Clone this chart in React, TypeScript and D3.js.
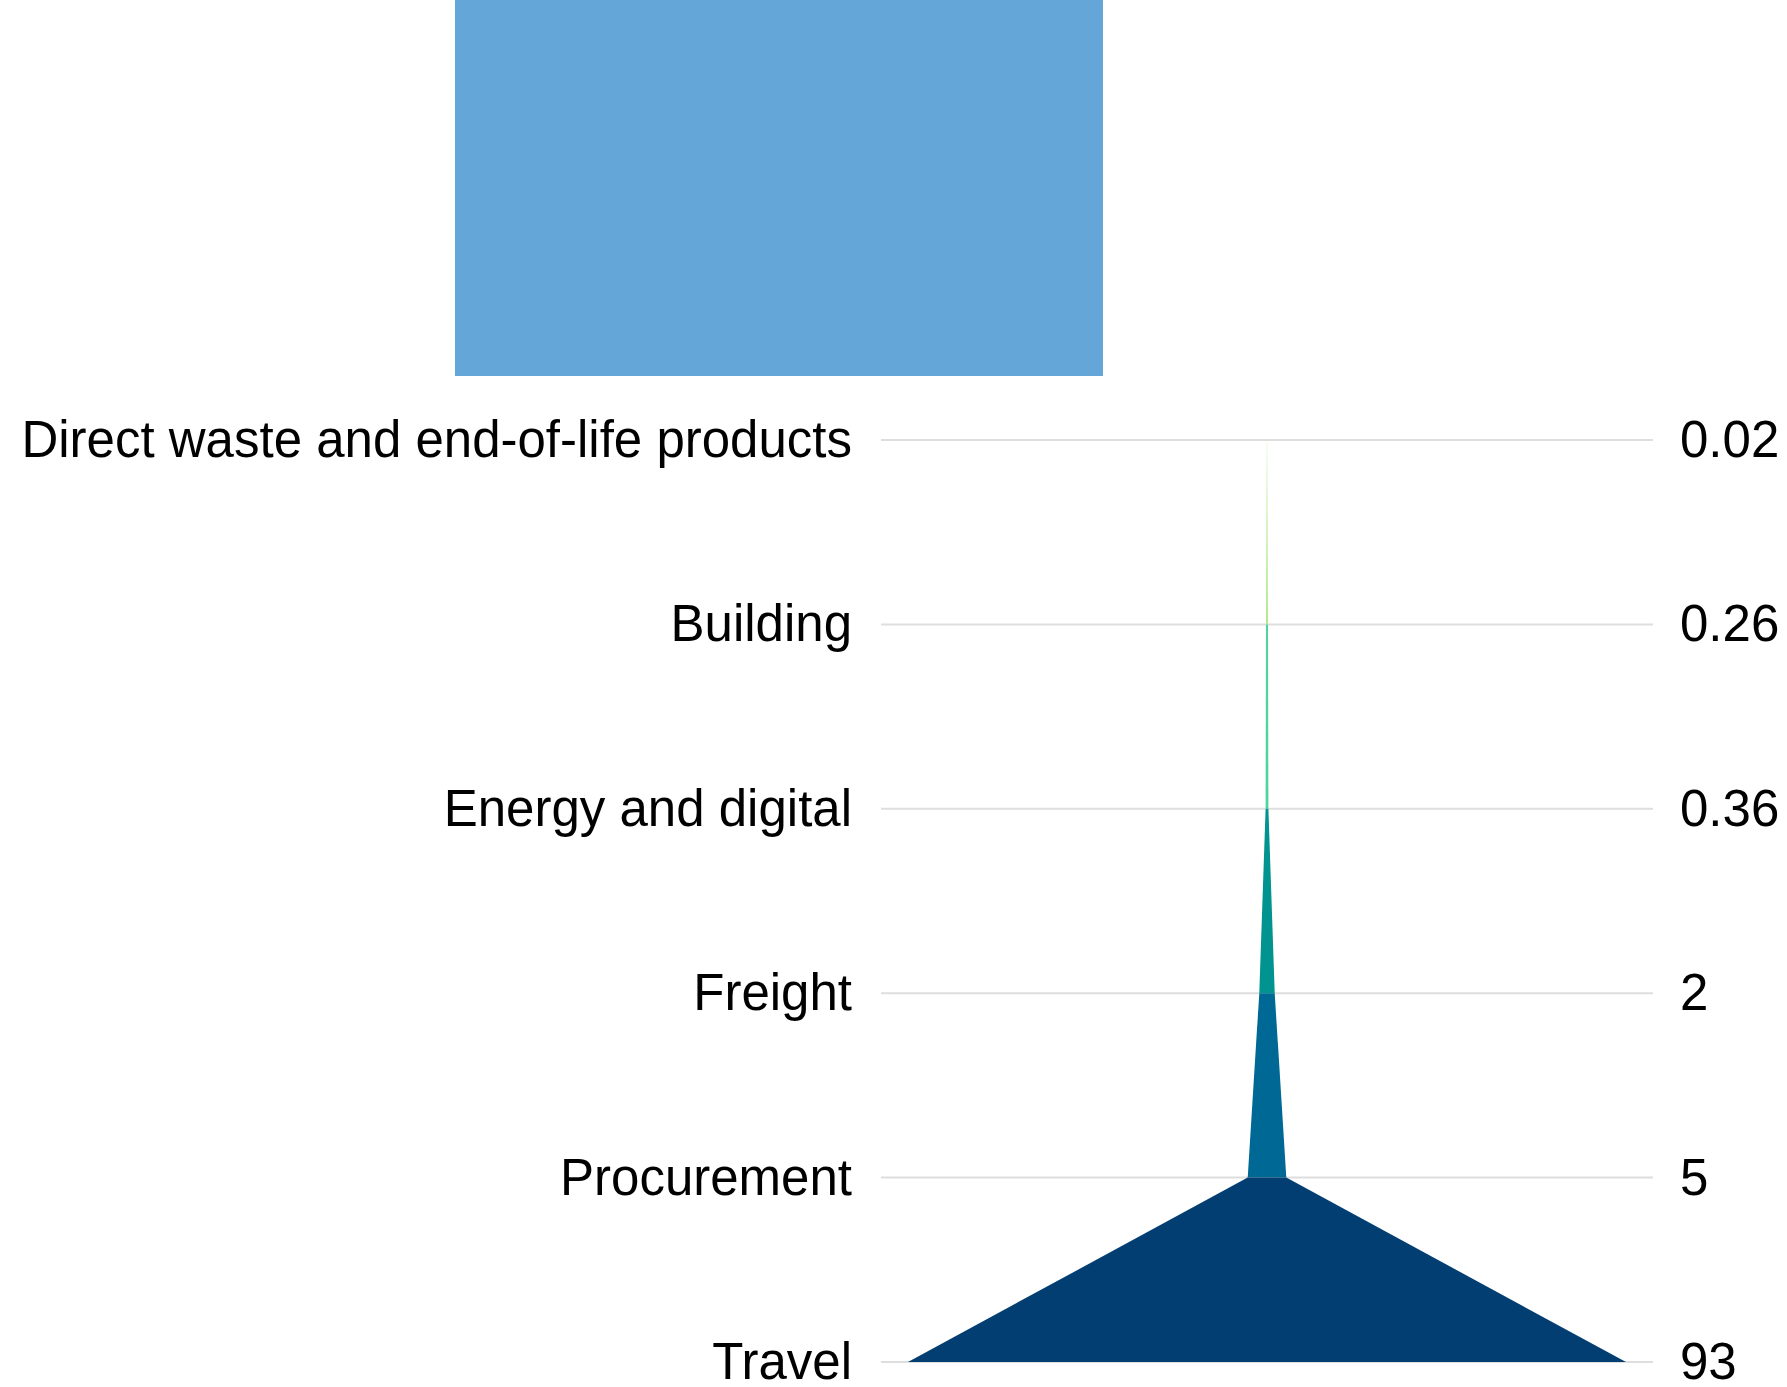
import React from "react";
import * as d3 from "d3";

const categories = [
  "Direct waste and end-of-life products",
  "Building",
  "Energy and digital",
  "Freight",
  "Procurement",
  "Travel",
];
const values = [0.02, 0.26, 0.36, 2, 5, 93];
const valueLabels = ["0.02", "0.26", "0.36", "2", "5", "93"];
const segmentColors = ["#ffffff", "#b2ea8e", "#4fd3a1", "#00938f", "#006895", "#023e71"];

const W = 1787;
const H = 1387;

export default function App() {
  const y = d3.scalePoint<string>().domain(categories).range([440, 1362]);
  const cx = 1267;
  const halfW = d3.scaleLinear().domain([0, 93]).range([0, 359]);

  const segments = categories.slice(1).map((c, k) => {
    const i = k + 1;
    const y0 = y(categories[i - 1])!;
    const y1 = y(c)!;
    const w0 = halfW(values[i - 1]);
    const w1 = halfW(values[i]);
    const pts: [number, number][] = [
      [cx - w0, y0],
      [cx + w0, y0],
      [cx + w1, y1],
      [cx - w1, y1],
    ];
    const line = d3.line();
    return { d: line(pts)! + "Z", color: segmentColors[i], key: c };
  });

  return (
    <svg
      width={W}
      height={H}
      style={{ position: "absolute", left: 0, top: 0, background: "#fff" }}
      fontFamily="'Liberation Sans', Arial, sans-serif"
    >
      <rect x={455} y={0} width={648} height={376} fill="#64a6d8" />
      {categories.map((c) => (
        <line
          key={"g" + c}
          x1={881}
          x2={1653}
          y1={y(c)}
          y2={y(c)}
          stroke="#dedede"
          strokeWidth={2}
        />
      ))}
      {segments.map((s) => (
        <path key={s.key} d={s.d} fill={s.color} />
      ))}
      {categories.map((c, i) => (
        <text
          key={"l" + c}
          x={852}
          y={y(c)! + 17}
          textAnchor="end"
          fontSize={51}
          fill="#000"
        >
          {c}
        </text>
      ))}
      {categories.map((c, i) => (
        <text
          key={"v" + c}
          x={1680}
          y={y(c)! + 17}
          textAnchor="start"
          fontSize={51}
          fill="#000"
        >
          {valueLabels[i]}
        </text>
      ))}
    </svg>
  );
}
